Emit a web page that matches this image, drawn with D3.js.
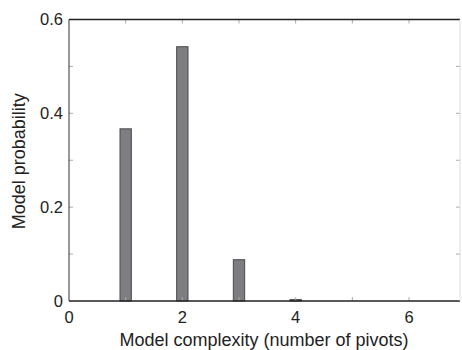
<!DOCTYPE html>
<html lang="en">

<head>
  <meta charset="UTF-8">
  <title>Model probability vs complexity</title>
  <script src="https://d3js.org/d3.v7.min.js"></script>
  <style>
    body {
      margin: 0;
      background: #fff;
    }

    svg {
      font-family: "Liberation Sans", Arial, sans-serif;
    }

    .tick-label {
      font-size: 16.5px;
      fill: #222;
    }

    .axis-title {
      font-size: 18px;
      fill: #222;
    }

    .bar {
      fill: #7e7e82;
      stroke: #4a4a4e;
      stroke-width: 1px;
    }
  </style>
</head>

<body>
  <svg id="chart"></svg>
  <script>
    const width = 462;
    const height = 350;

    // data
    const pivots = [1, 2, 3, 4, 5, 6];
    const probability = [0.367, 0.542, 0.088, 0.003, 0, 0];

    // ticks
    const xTickValues = [0, 1, 2, 3, 4, 5, 6];
    const xTickLabels = [0, 2, 4, 6];
    const yTickValues = [0, 0.1, 0.2, 0.3, 0.4, 0.5, 0.6];
    const yTickLabels = [0, 0.2, 0.4, 0.6];

    const barWidth = 0.2;

    // plot area
    const plotLeft = 69, plotRight = 460, plotTop = 19.5, plotBottom = 301;

    const svg = d3.select("#chart")
      .attr("width", width)
      .attr("height", height);

    const x = d3.scaleLinear().domain([0, 6.9]).range([plotLeft, plotRight]);
    const y = d3.scaleLinear().domain([0, 0.6]).range([plotBottom, plotTop]);

    // bars
    svg.selectAll(".bar")
      .data(pivots.map((p, i) => ({ p, v: probability[i] })))
      .enter().append("rect")
      .attr("class", "bar")
      .attr("x", d => x(d.p - barWidth / 2))
      .attr("width", d => x(barWidth) - x(0))
      .attr("y", d => y(d.v))
      .attr("height", d => Math.max(0, y(0) - y(d.v)));

    // inward ticks on all four sides
    const tickLen = 4;
    const tickColor = "#aaa";

    svg.append("g").selectAll("line")
      .data(xTickValues.filter(v => v > 0))
      .enter().append("line")
      .attr("x1", d => x(d)).attr("x2", d => x(d))
      .attr("y1", plotBottom).attr("y2", plotBottom - tickLen)
      .attr("stroke", tickColor);

    svg.append("g").selectAll("line")
      .data(xTickValues.filter(v => v > 0))
      .enter().append("line")
      .attr("x1", d => x(d)).attr("x2", d => x(d))
      .attr("y1", plotTop).attr("y2", plotTop + tickLen)
      .attr("stroke", tickColor);

    svg.append("g").selectAll("line")
      .data(yTickValues.slice(1, -1))
      .enter().append("line")
      .attr("x1", plotLeft).attr("x2", plotLeft + tickLen)
      .attr("y1", d => y(d)).attr("y2", d => y(d))
      .attr("stroke", tickColor);

    svg.append("g").selectAll("line")
      .data(yTickValues.slice(1, -1))
      .enter().append("line")
      .attr("x1", plotRight).attr("x2", plotRight - tickLen)
      .attr("y1", d => y(d)).attr("y2", d => y(d))
      .attr("stroke", tickColor);

    // box: dark left/top/bottom, faint right
    svg.append("line")
      .attr("x1", plotLeft).attr("x2", plotRight).attr("y1", plotTop).attr("y2", plotTop)
      .attr("stroke", "#222").attr("stroke-width", 1.3);
    svg.append("line")
      .attr("x1", plotLeft).attr("x2", plotRight).attr("y1", plotBottom).attr("y2", plotBottom)
      .attr("stroke", "#222").attr("stroke-width", 1.3);
    svg.append("line")
      .attr("x1", plotLeft).attr("x2", plotLeft).attr("y1", plotTop).attr("y2", plotBottom)
      .attr("stroke", "#333").attr("stroke-width", 1);
    svg.append("line")
      .attr("x1", plotRight).attr("x2", plotRight).attr("y1", plotTop).attr("y2", plotBottom)
      .attr("stroke", "#ddd").attr("stroke-width", 1);

    // tick labels
    svg.append("g").selectAll("text")
      .data(xTickLabels)
      .enter().append("text")
      .attr("class", "tick-label")
      .attr("x", d => x(d))
      .attr("y", plotBottom + 22)
      .attr("text-anchor", "middle")
      .text(d => d);

    svg.append("g").selectAll("text")
      .data(yTickLabels)
      .enter().append("text")
      .attr("class", "tick-label")
      .attr("x", plotLeft - 6)
      .attr("y", d => y(d))
      .attr("dy", "0.35em")
      .attr("text-anchor", "end")
      .text(d => d);

    // axis titles
    svg.append("text")
      .attr("class", "axis-title")
      .attr("x", 264)
      .attr("y", 346)
      .attr("text-anchor", "middle")
      .text("Model complexity (number of pivots)");

    svg.append("text")
      .attr("class", "axis-title")
      .attr("transform", `translate(25,${(plotTop + plotBottom) / 2 + 1}) rotate(-90)`)
      .attr("text-anchor", "middle")
      .text("Model probability");
  </script>
</body>

</html>
